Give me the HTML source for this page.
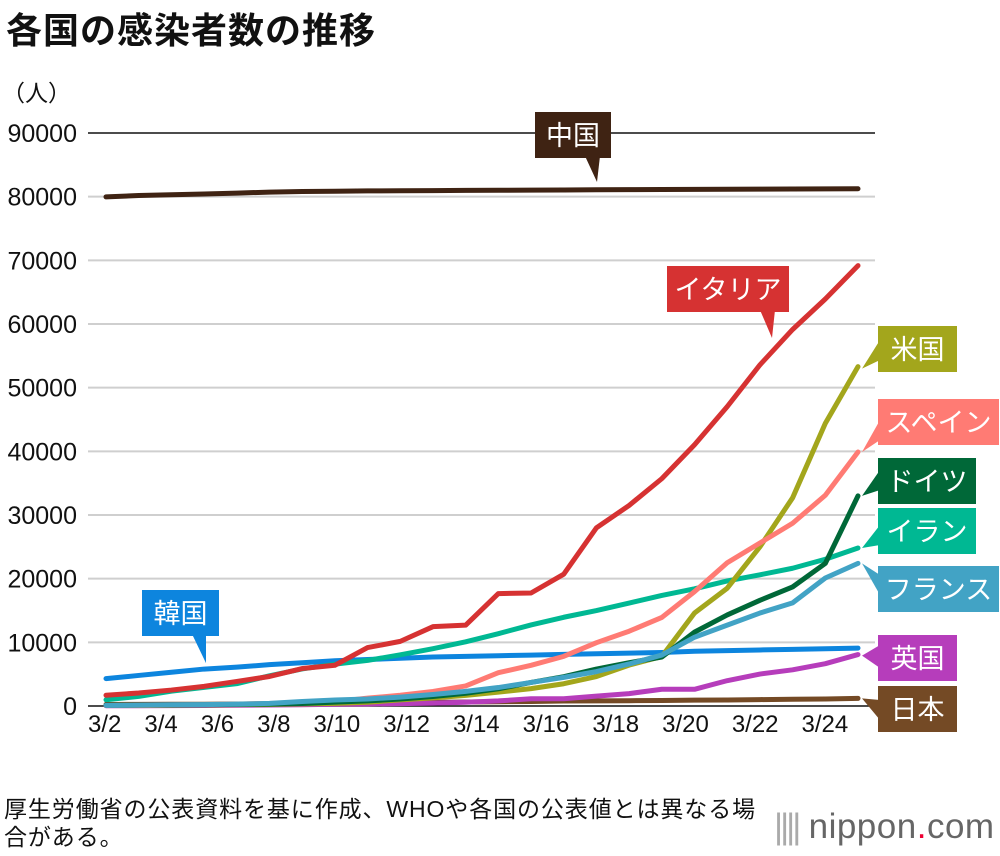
<!DOCTYPE html>
<html><head><meta charset="utf-8">
<style>
body{margin:0;background:#fff;width:1000px;height:856px;overflow:hidden;font-family:"Liberation Sans","Noto Sans CJK JP",sans-serif;}
#title{position:absolute;left:6px;top:2px;font-size:36px;font-weight:bold;color:#111;letter-spacing:1px;}
#unit{position:absolute;left:2px;top:74px;font-size:23px;color:#111;}
#note{position:absolute;left:4px;top:795px;font-size:23px;letter-spacing:0.9px;line-height:28px;color:#111;}
#logo{position:absolute;left:774px;top:807px;font-size:35px;color:#666;letter-spacing:0.5px;}
#xlabels{position:absolute;left:88px;top:711px;font-size:24px;color:#111;white-space:nowrap;}
#xlabels span{display:inline-block;margin-right:23px;}
svg{position:absolute;left:0;top:0;}
</style></head><body>
<div id="title">各国の感染者数の推移</div>
<div id="unit">（人）</div>
<svg id="chart" width="1000" height="856"></svg>
<div id="xlabels"></div>
<div id="note">厚生労働省の公表資料を基に作成、WHOや各国の公表値とは異なる場<br>合がある。</div>
<div id="logo"><span style="letter-spacing:-3px;color:#aaa">||||</span> nippon<span style="color:#e03">.</span>com</div>
<script>
const xTickLabels=["3/2","3/4","3/6","3/8","3/10","3/12","3/14","3/16","3/18","3/20","3/22","3/24"];
const yTicks=[0,10000,20000,30000,40000,50000,60000,70000,80000,90000];
const china=[79968,80174,80304,80422,80565,80711,80813,80859,80904,80924,80955,80981,81003,81021,81048,81077,81100,81120,81140,81160,81180,81200,81220,81240];
const korea=[4300,4800,5300,5800,6100,6500,6800,7100,7300,7500,7700,7800,7900,8000,8100,8200,8300,8400,8600,8700,8800,8900,9000,9100];
const italy=[1694,2036,2502,3089,3858,4636,5883,6400,9172,10149,12462,12700,17660,17750,20700,27980,31506,35713,41035,47021,53578,59138,63927,69176];
const usa=[74,98,118,153,217,233,338,417,588,959,1281,1663,2179,2726,3499,4632,6421,7783,14600,18500,25000,32700,44400,53300];
const spain=[84,120,165,222,282,401,500,673,1231,1695,2277,3146,5232,6391,7798,9942,11748,13910,17963,22500,25600,28700,33100,39900];
const germany=[120,130,160,200,250,300,400,600,800,1100,1500,2000,2700,3700,4600,5800,6800,7700,11600,14300,16600,18700,22400,33000];
const iran=[978,1501,2336,2922,3513,4747,5823,6566,7161,8042,9000,10075,11364,12729,13938,14991,16169,17361,18407,19644,20610,21638,23049,24811];
const france=[100,130,190,210,290,420,700,950,1100,1400,1800,2300,2900,3700,4500,5400,6600,8000,10800,12700,14600,16200,20100,22400];
const uk=[36,40,51,85,116,163,206,273,321,373,456,590,798,1140,1144,1543,1950,2626,2626,3983,5018,5683,6650,8077];
const japan=[243,254,268,284,317,349,408,455,488,514,568,620,675,716,780,814,829,873,914,950,1007,1054,1100,1200];

const X0=106,X1=858,Y0=706,YPER=573/90000;
function xs(i){return X0+i*(X1-X0)/(china.length-1);}
function ys(v){return Y0-v*YPER;}
const NS="http://www.w3.org/2000/svg";
const svg=document.getElementById('chart');
function mk(t,a){const e=document.createElementNS(NS,t);for(const k in a)e.setAttribute(k,a[k]);svg.appendChild(e);return e;}

yTicks.forEach(v=>{
  const g=mk('line',{x1:88,x2:875,y1:ys(v),y2:ys(v),stroke:v===0||v===90000?'#111':'#cfcfcf','stroke-width':v===0||v===90000?1.6:2});
  
  
  const t=mk('text',{x:77,y:ys(v)+9,'text-anchor':'end','font-size':25,fill:'#111'});
  t.textContent=v;
  
  
});
const xl=document.getElementById('xlabels');
xTickLabels.forEach(l=>{const s=document.createElement('span');s.textContent=l;
  
  
  xl.appendChild(s);});

const series=[
 ['china',china,'#3f2313'],['korea',korea,'#0d85de'],['iran',iran,'#00b893'],['japan',japan,'#744a25'],
 ['uk',uk,'#b63dbb'],['usa',usa,'#a3a61c'],['spain',spain,'#ff7b74'],['germany',germany,'#006838'],
 ['france',france,'#42a3c5'],['italy',italy,'#d63232']];
series.forEach(([n,d,c])=>{
  const p=mk('polyline',{points:d.map((v,i)=>xs(i)+','+ys(v)).join(' '),fill:'none',stroke:c,'stroke-width':5,'stroke-linejoin':'round','stroke-linecap':'round'});
  
  
});

const last=china.length-1;
function callout(n,txt,c,bx,by,bw,poly){
  const g=mk('polygon',{points:poly,fill:c});
  
  
  const r=mk('rect',{x:bx,y:by,width:bw,height:46,fill:c});
  
  
  const t=mk('text',{x:bx+bw/2,y:by+33,'text-anchor':'middle','font-size':27,fill:'#fff'});
  t.textContent=txt;
  
  
}
const ex=xs(last)+4;
callout('china','中国','#3f2313',535,112,76,`585,156 600,156 597,182`);
callout('italy','イタリア','#d63232',667,266,122,`760,310 775,310 772,338`);
callout('korea','韓国','#0d85de',142,590,77,`192,634 206,634 206,${ys(korea[3])-6}`);
callout('usa','米国','#a3a61c',878,326,79,`880,340 880,360 ${ex},${ys(usa[last])+2}`);
callout('spain','スペイン','#ff7b74',878,399,121,`880,420 880,440 ${ex},${ys(spain[last])}`);
callout('germany','ドイツ','#006838',878,458,98,`880,470 880,490 ${ex},${ys(germany[last])}`);
callout('iran','イラン','#00b893',878,508,98,`880,525 880,545 ${ex},${ys(iran[last])}`);
callout('france','フランス','#42a3c5',878,566,121,`880,575 880,595 ${ex},${ys(france[last])}`);
callout('uk','英国','#b63dbb',878,635,79,`880,645 880,668 ${ex},${ys(uk[last])+1}`);
callout('japan','日本','#744a25',878,686,79,`880,700 880,720 ${ex},${ys(japan[last])}`);
</script>
</body></html>
